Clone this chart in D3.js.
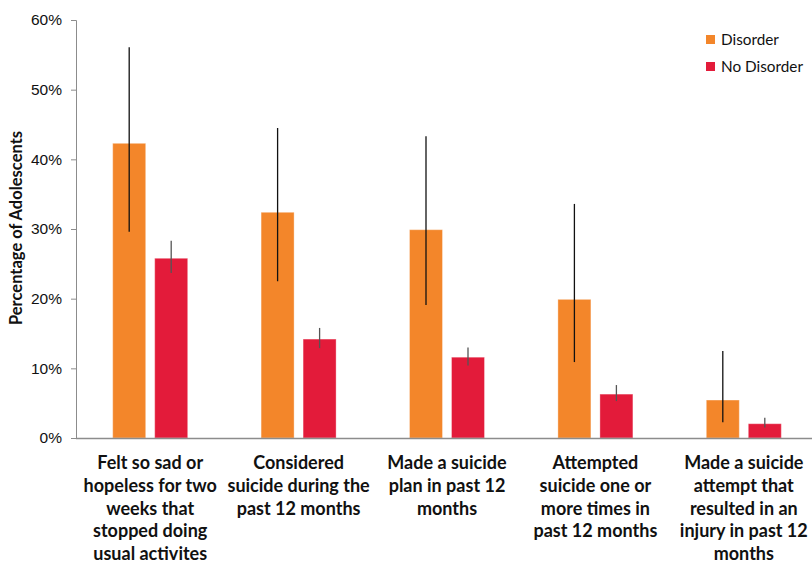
<!DOCTYPE html>
<html>
<head>
<meta charset="utf-8">
<script src="https://cdn.jsdelivr.net/npm/d3@7"></script>
<style>
  body { margin: 0; background: #fff; }
  svg { font-family: Lato, "Open Sans", sans-serif; }
</style>
</head>
<body>
<div id="chart"></div>
<script>
// category labels, already broken into lines as in the original
const categories = [
    ["Felt so sad or", "hopeless for two", "weeks that", "stopped doing", "usual activites"],
    ["Considered", "suicide during the", "past 12 months"],
    ["Made a suicide", "plan in past 12", "months"],
    ["Attempted", "suicide one or", "more times in", "past 12 months"],
    ["Made a suicide", "attempt that", "resulted in an", "injury in past 12", "months"]
];
const seriesNames = ["Disorder", "No Disorder"];
const disorder      = [42.3, 32.4, 29.9, 19.9, 5.45];
const disorderLow   = [29.6, 22.5, 19.1, 10.9, 2.25];
const disorderHigh  = [56.1, 44.5, 43.3, 33.6, 12.5];
const noDisorder     = [25.8, 14.2, 11.6, 6.3, 2.05];
const noDisorderLow  = [23.7, 12.9, 10.4, 5.3, 1.5];
const noDisorderHigh = [28.3, 15.8, 13.0, 7.6, 2.9];
const yTicks = [0, 10, 20, 30, 40, 50, 60];

const colors = ["#F3862A", "#E31B3A"];

const W = 812, H = 566;
const margin = { top: 20, right: -6, bottom: 128, left: 76 },
      width = W - margin.left - margin.right,
      height = H - margin.top - margin.bottom;

const svg = d3.select("#chart")
              .append("svg")
              .attr("width", W)
              .attr("height", H);

const g = svg.append("g")
             .attr("transform", `translate(${margin.left},${margin.top})`);

const x0 = d3.scaleBand()
             .domain(d3.range(categories.length))
             .range([0, width])
             .paddingInner(0)
             .paddingOuter(0);

const barW = 33, gap = 9;
const x1 = d3.scaleOrdinal()
             .domain([0, 1])
             .range([(x0.bandwidth() - 2 * barW - gap) / 2,
                     (x0.bandwidth() - 2 * barW - gap) / 2 + barW + gap]);

const y = d3.scaleLinear().domain([0, 60]).range([height, 0]);

// y axis
const yAxis = g.append("g")
   .call(d3.axisLeft(y).tickValues(yTicks).tickSize(5).tickPadding(9).tickFormat(d => d + "%"));
yAxis.select(".domain").attr("stroke", "#8c8c8c").attr("d", `M-5,0.5H0.5V${height}`);
yAxis.selectAll(".tick line").attr("stroke", "#8c8c8c");
yAxis.selectAll(".tick text")
     .attr("fill", "#111")
     .style("font-size", "15.5px");

// y label
svg.append("text")
   .attr("transform", `translate(22,228) rotate(-90)`)
   .attr("text-anchor", "middle")
   .style("font-size", "16.5px")
   .style("font-weight", "bold")
   .attr("fill", "#111")
   .text("Percentage of Adolescents");

// bars
const rows = categories.map((c, i) => ({
    i,
    vals: [
        { s: 0, v: disorder[i], lo: disorderLow[i], hi: disorderHigh[i] },
        { s: 1, v: noDisorder[i], lo: noDisorderLow[i], hi: noDisorderHigh[i] }
    ]
}));

const grp = g.selectAll(".grp")
   .data(rows)
   .enter().append("g")
   .attr("transform", d => `translate(${x0(d.i)},0)`);

grp.selectAll("rect")
   .data(d => d.vals)
   .enter().append("rect")
   .attr("x", d => x1(d.s))
   .attr("y", d => y(d.v))
   .attr("width", barW)
   .attr("height", d => height - y(d.v))
   .attr("fill", d => colors[d.s])
   .attr("stroke", "#fff")
   .attr("stroke-opacity", 0.35)
   .attr("stroke-width", 1);

// error bars
grp.selectAll("line.err")
   .data(d => d.vals)
   .enter().append("line")
   .attr("class", "err")
   .attr("x1", d => x1(d.s) + barW / 2)
   .attr("x2", d => x1(d.s) + barW / 2)
   .attr("y1", d => y(d.hi))
   .attr("y2", d => y(d.lo))
   .attr("stroke", d => d.s === 0 ? "#111" : "#555")
   .attr("stroke-width", 1.3);

// x axis line
g.append("line")
 .attr("x1", 0).attr("x2", width)
 .attr("y1", height + 0.5).attr("y2", height + 0.5)
 .attr("stroke", "#8c8c8c")
 .attr("stroke-width", 1.5);

// x labels
const lab = g.selectAll(".xlab")
   .data(rows)
   .enter().append("text")
   .attr("text-anchor", "middle")
   .attr("x", d => x0(d.i) + x0.bandwidth() / 2)
   .attr("y", height + 31)
   .style("font-size", "18px")
   .style("font-weight", "bold")
   .attr("fill", "#111");

lab.selectAll("tspan")
   .data(d => categories[d.i])
   .enter().append("tspan")
   .attr("x", function() { return d3.select(this.parentNode).attr("x"); })
   .attr("dy", (d, j) => j === 0 ? 0 : 22.8)
   .text(d => d);

// legend
const leg = svg.append("g").attr("transform", "translate(706,35)");
seriesNames.forEach((n, i) => {
    leg.append("rect")
       .attr("x", 0).attr("y", i * 27)
       .attr("width", 9).attr("height", 9)
       .attr("fill", colors[i]);
    leg.append("text")
       .attr("x", 15).attr("y", i * 27 + 10)
       .style("font-size", "15.3px")
       .attr("fill", "#111")
       .text(n);
});
</script>
</body>
</html>
